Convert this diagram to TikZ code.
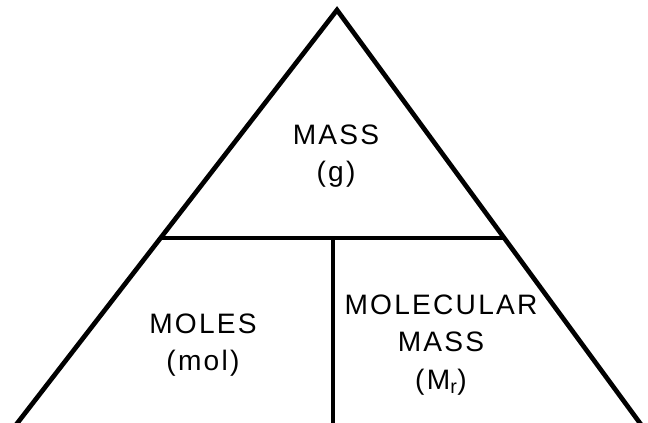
\documentclass[tikz,border=0pt]{standalone}
\usepackage{fontspec}
\setmainfont{Liberation Sans}[LetterSpace=8]
\usepackage{tikz}
\usetikzlibrary{calc,positioning}
\tikzset{
  edge/.style={draw=black,line width=4pt,line join=miter},
  divider/.style={draw=black,line width=3pt},
  label/.style={align=center,font=\fontsize{24}{32}\selectfont,inner sep=0pt},
}
\begin{document}
\begin{tikzpicture}[x=0.03cm,y=-0.03cm]
			\useasboundingbox (0,0) rectangle (648,423);
			
			\coordinate (apex) at (337,10);
			\coordinate (leftfoot) at (12,430);
			\coordinate (rightfoot) at (645,430);
			\coordinate (midleft) at ($(apex)!0.543!(leftfoot)$);
			\coordinate (midright) at ($(apex)!0.543!(rightfoot)$);
			\coordinate (splittop) at (333,238);
			\coordinate (splitfoot) at (333,430);
			
			\draw[edge] (leftfoot)--(apex)--(rightfoot);
			\draw[divider] (midleft)--(midright);
			\draw[divider] (splittop)--(splitfoot);
			
			\node[label] (mass) at (336,156) {MASS\\(g)};
			\node[label] (moles) at (203,345) {MOLES\\(mol)};
			\node[label] (molar) at (441,345) {MOLECULAR\\MASS\\(M\textsubscript{r})};
		\end{tikzpicture}
\end{document}
